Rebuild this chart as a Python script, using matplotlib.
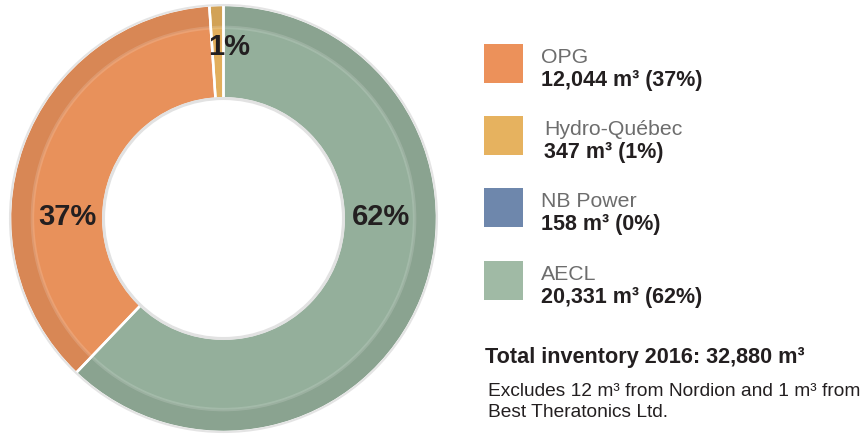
import numpy as np
import matplotlib
matplotlib.use('Agg')
import matplotlib.pyplot as plt
from matplotlib.patches import Rectangle, Circle

plt.rcParams['font.family'] = ['Liberation Sans', 'DejaVu Sans']

# 数据
owners = ['OPG', 'Hydro-Québec', 'NB Power', 'AECL']
volumes = [12044, 347, 158, 20331]
shares = ['37%', '1%', '0%', '62%']
legend_colors = ['#ec915a', '#e6b25f', '#6e87ac', '#a0baa5']
# 饼图只画三块（NB Power 在原图中看不出来）
pie_owners = ['AECL', 'OPG', 'Hydro-Québec']
pie_labels = ['62%', '37%', '1%']
pie_colors = ['#94af9b', '#e8915b', '#e2ae5c']
total_label = 'Total inventory 2016: 32,880 m³'
note_lines = ['Excludes 12 m³ from Nordion and 1 m³ from', 'Best Theratonics Ltd.']

W, H = 868, 436
fig = plt.figure(figsize=(W / 100, H / 100), dpi=100)


def fx(x):
    return x / W


def fy(y):
    return 1 - y / H


# 圆环
cx, cy, R = 223.5, 218.5, 213.5
half = 217
ax = fig.add_axes([fx(cx - half), fy(cy + half), 2 * half / W, 2 * half / H])
ax.axis('off')

vals = [volumes[owners.index(o)] for o in pie_owners]
ring_w = 1 - 120 / R
ax.pie(vals, colors=pie_colors, startangle=90, counterclock=False, radius=1,
       wedgeprops=dict(width=ring_w, edgecolor='none', linewidth=0))
# 外圈较深的一条
dark = [tuple(np.array(matplotlib.colors.to_rgb(c)) * 0.93) for c in pie_colors]
ax.pie(vals, colors=dark, startangle=90, counterclock=False, radius=1,
       wedgeprops=dict(width=0.105, edgecolor='none', linewidth=0))
ax.add_patch(Circle((0, 0), 0.895, fill=False, edgecolor='white', alpha=0.15, linewidth=2.5))
# 白色分隔线
seps, _ = ax.pie(vals, startangle=90, counterclock=False, radius=1,
                 wedgeprops=dict(width=ring_w, edgecolor='white', linewidth=1.8))
for w in seps:
    w.set_facecolor('none')
ax.add_patch(Circle((0, 0), 1.0, fill=False, edgecolor='#e4e4e4', linewidth=1.5))
ax.add_patch(Circle((0, 0), 120 / R, fill=False, edgecolor='#e2e2e2', linewidth=2.2))

lim = half / R
ax.set_xlim(-lim, lim)
ax.set_ylim(-lim, lim)
ax.set_aspect('equal')

# 百分比标签
label_pos = {'62%': (381, 217), '37%': (67, 217), '1%': (229, 47)}
for lab in pie_labels:
    x, y = label_pos[lab]
    fig.text(fx(x), fy(y), lab, ha='center', va='center', fontsize=21,
             fontweight='bold', color='#231f20')

# 图例
tops = [44, 116, 188, 261]
text_x = [541, 544, 541, 541]
for i, name in enumerate(owners):
    fig.patches.append(Rectangle((fx(484), fy(tops[i] + 39)), 39 / W, 39 / H,
                                 transform=fig.transFigure, facecolor=legend_colors[i],
                                 edgecolor='none'))
    fig.text(fx(text_x[i]), fy(tops[i] + 19), name, fontsize=15.3, color='#6d6d6d',
             va='baseline')
    fig.text(fx(text_x[i]), fy(tops[i] + 42), '{:,} m³ ({})'.format(volumes[i], shares[i]),
             fontsize=15.5, fontweight='bold', color='#231f20', va='baseline')

fig.text(fx(485), fy(363), total_label, fontsize=15.6, fontweight='bold',
         color='#231f20', va='baseline')
fig.text(fx(488), fy(396), note_lines[0], fontsize=13.8, color='#231f20', va='baseline')
fig.text(fx(488), fy(417), note_lines[1], fontsize=13.8, color='#231f20', va='baseline')

fig.savefig('out.png', dpi=100)
